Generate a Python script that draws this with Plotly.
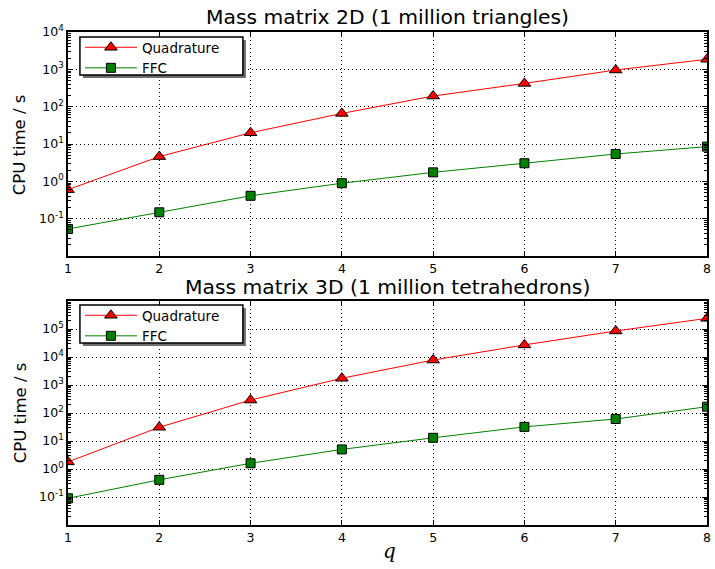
import plotly.graph_objects as go

# polynomial degree q
q = [1, 2, 3, 4, 5, 6, 7, 8]

# CPU time (s), 2D mass matrix, 1 million triangles
quad_2d = [0.6, 4.6, 20, 66, 193, 420, 960, 1860]
ffc_2d = [0.053, 0.148, 0.41, 0.89, 1.74, 3.05, 5.4, 8.5]

# CPU time (s), 3D mass matrix, 1 million tetrahedrons
quad_3d = [1.8, 31, 290, 1740, 7800, 27000, 85000, 240000]
ffc_3d = [0.09, 0.41, 1.6, 5.0, 13, 32, 61, 168]

titles = ["Mass matrix 2D (1 million triangles)", "Mass matrix 3D (1 million tetrahedrons)"]
x_ticks = [1, 2, 3, 4, 5, 6, 7, 8]
y_exp_top = [-1, 0, 1, 2, 3, 4]
y_exp_bottom = [-1, 0, 1, 2, 3, 4, 5]

FONT = "DejaVu Sans"
W, H = 715, 569
ML, MR, MT, MB = 68, 4, 32, 44
plot_h = H - MT - MB


def py(px):
    """pixel row -> paper y"""
    return (H - MB - px) / plot_h


def px_x(px):
    """pixel column -> paper x"""
    return (px - ML) / (W - ML - MR)


fig = go.Figure()

panels = [
    (quad_2d, ffc_2d, "x", "y", "legend"),
    (quad_3d, ffc_3d, "x2", "y2", "legend2"),
]
for quad, ffc, xa, ya, lg in panels:
    fig.add_trace(go.Scatter(
        x=q, y=quad, name="Quadrature", mode="lines+markers", xaxis=xa, yaxis=ya, legend=lg,
        line=dict(color="#ff0000", width=1),
        marker=dict(symbol="triangle-up", size=11, color="#ff0000",
                    line=dict(color="black", width=1)),
    ))
    fig.add_trace(go.Scatter(
        x=q, y=ffc, name="FFC", mode="lines+markers", xaxis=xa, yaxis=ya, legend=lg,
        line=dict(color="#008000", width=1),
        marker=dict(symbol="square", size=9, color="#008000",
                    line=dict(color="black", width=1)),
    ))


def minor_vals(lo, hi):
    vals = []
    for e in range(lo, hi):
        for k in range(2, 10):
            vals.append(k * 10 ** e)
    return vals


common_x = dict(
    range=[1, 8], tickvals=x_ticks, ticktext=[str(v) for v in x_ticks],
    showline=True, linecolor="black", linewidth=1.5, mirror="allticks",
    ticks="inside", ticklen=5, tickcolor="black",
    showgrid=True, gridcolor="black", gridwidth=1, griddash="1px,3px",
    zeroline=False, tickfont=dict(family=FONT, size=12.5, color="black"),
)


def y_axis(lo, hi, exps, dom):
    return dict(
        type="log", range=[lo, hi], domain=dom,
        tickvals=[10 ** e for e in exps],
        ticktext=[f"10<sup>{e}</sup>" for e in exps],
        showline=True, linecolor="black", linewidth=1.5, mirror="allticks",
        ticks="inside", ticklen=5, tickcolor="black",
        minor=dict(tickvals=minor_vals(lo, hi), ticks="inside", ticklen=3,
                   tickcolor="black", showgrid=False),
        showgrid=True, gridcolor="black", gridwidth=1, griddash="1px,3px",
        zeroline=False, tickfont=dict(family=FONT, size=12.5, color="black"),
    )


top_dom = [py(256), 1.0]
bot_dom = [0.0, py(301)]

legend_style = dict(
    xanchor="left", yanchor="top", bgcolor="rgba(0,0,0,0)", borderwidth=0,
    font=dict(family=FONT, size=13.5, color="black"),
    tracegroupgap=0, itemwidth=52,
)

fig.update_layout(
    width=W, height=H,
    margin=dict(l=ML, r=MR, t=MT, b=MB),
    paper_bgcolor="white", plot_bgcolor="white",
    showlegend=True,
    xaxis=dict(**common_x, anchor="y"),
    yaxis=y_axis(-2, 4, y_exp_top, top_dom) | dict(anchor="x"),
    xaxis2=dict(**common_x, anchor="y2"),
    yaxis2=y_axis(-2, 6, y_exp_bottom, bot_dom) | dict(anchor="x2"),
    legend=dict(x=px_x(80), y=py(32), **legend_style),
    legend2=dict(x=px_x(80), y=py(300), **legend_style),
    font=dict(family=FONT, color="black"),
)

# legend frames with drop shadow
shapes = []
for top in (37, 305):
    shapes.append(dict(type="rect", xref="paper", yref="paper", layer="above",
                       x0=px_x(83), x1=px_x(247), y0=py(top + 3), y1=py(top + 41),
                       fillcolor="#6e6e6e", line=dict(width=0)))
    shapes.append(dict(type="rect", xref="paper", yref="paper", layer="above",
                       x0=px_x(80), x1=px_x(244), y0=py(top), y1=py(top + 38),
                       fillcolor="white", line=dict(color="black", width=1.5)))
fig.update_layout(shapes=shapes)

annotations = [
    dict(text=titles[0], x=0.5, y=py(17), xref="paper", yref="paper",
         showarrow=False, font=dict(family=FONT, size=20.3, color="black"),
         xanchor="center", yanchor="middle"),
    dict(text=titles[1], x=0.5, y=py(286.5), xref="paper", yref="paper",
         showarrow=False, font=dict(family=FONT, size=20.3, color="black"),
         xanchor="center", yanchor="middle"),
    dict(text="CPU time / s", x=px_x(20), y=py(145), xref="paper", yref="paper",
         showarrow=False, textangle=-90, font=dict(family=FONT, size=16.5, color="black"),
         xanchor="center", yanchor="middle"),
    dict(text="CPU time / s", x=px_x(20), y=py(413), xref="paper", yref="paper",
         showarrow=False, textangle=-90, font=dict(family=FONT, size=16.5, color="black"),
         xanchor="center", yanchor="middle"),
    dict(text="<i>q</i>", x=px_x(392), y=py(551), xref="paper", yref="paper",
         showarrow=False, font=dict(family="DejaVu Serif", size=20, color="black"),
         xanchor="center", yanchor="middle"),
]
fig.update_layout(annotations=annotations)

fig.write_html("out.html")
